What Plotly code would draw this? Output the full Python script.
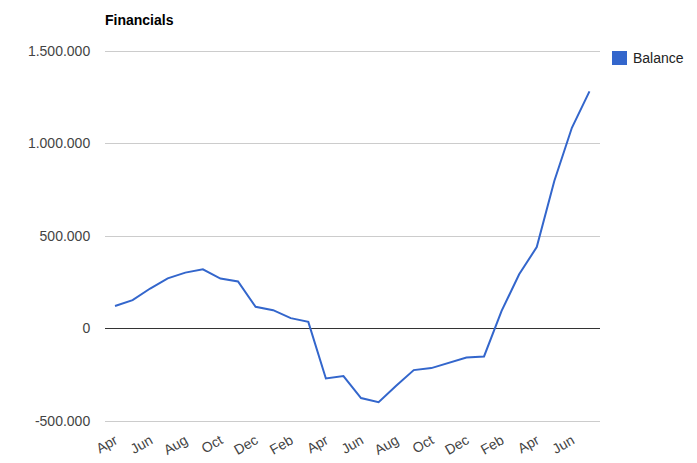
import plotly.graph_objects as go

months = ["Apr", "May", "Jun", "Jul", "Aug", "Sep", "Oct", "Nov", "Dec", "Jan", "Feb", "Mar",
          "Apr", "May", "Jun", "Jul", "Aug", "Sep", "Oct", "Nov", "Dec", "Jan", "Feb", "Mar",
          "Apr", "May", "Jun", "Jul"]
balance = [122000, 153000, 216000, 271000, 302000, 320000, 270000, 254000, 117000, 99000, 56000, 36000,
           -270000, -257000, -376000, -398000, -310000, -225000, -214000, -187000, -157000, -151000, 95000, 293000,
           440000, 797000, 1085000, 1282000]
y_ticks = [-500000, 0, 500000, 1000000, 1500000]
y_tick_labels = ["-500.000", "0", "500.000", "1.000.000", "1.500.000"]
series_name = "Balance"
series_color = "#3366cc"

idx = list(range(len(months)))
tick_idx = idx[::2]
tick_txt = [months[i] for i in tick_idx]

W, H = 697, 463
L, R, T, B = 105, 97, 49, 40
pw, ph = W - L - R, H - T - B
# pad the value range by ~2px on each side so the edge gridlines get drawn
pad_val = 10811

fig = go.Figure()
fig.add_trace(go.Scatter(x=idx, y=balance, mode="lines", name=series_name,
                         line=dict(color=series_color, width=2), showlegend=False,
                         hoverinfo="y"))

def px_x(p):
    return (p - L) / pw

def px_y(p):
    return 1 - (p - T) / ph

# legend: square + label right of the plot
fig.add_shape(type="rect", xref="paper", yref="paper",
              x0=px_x(612), x1=px_x(627), y0=px_y(51), y1=px_y(65),
              fillcolor=series_color, line=dict(width=0))
fig.add_annotation(xref="paper", yref="paper", x=px_x(631), y=px_y(58),
                   xanchor="left", yanchor="middle", text=series_name, showarrow=False,
                   font=dict(size=14, color="#222222"))

fig.update_layout(
    width=W, height=H,
    margin=dict(l=L, r=R, t=T, b=B, pad=0, autoexpand=False),
    paper_bgcolor="white", plot_bgcolor="white",
    font=dict(family="Liberation Sans, Arial, sans-serif", size=14, color="#444444"),
    title=dict(text="<b>Financials</b>", x=L / W, xanchor="left", y=1 - 20 / H, yanchor="middle",
               font=dict(size=14, color="#000000")),
    showlegend=False,
    xaxis=dict(range=[-0.57, 27.6], tickmode="array", tickvals=tick_idx, ticktext=tick_txt,
               tickangle=-30, showgrid=False, zeroline=False, showline=False, automargin=False,
               ticks="outside", ticklen=3, tickcolor="rgba(0,0,0,0)"),
    yaxis=dict(range=[y_ticks[0] - pad_val, y_ticks[-1] + pad_val], tickmode="array",
               tickvals=y_ticks, ticktext=y_tick_labels,
               showgrid=True, gridcolor="#cccccc", gridwidth=1,
               zeroline=True, zerolinecolor="#333333", zerolinewidth=1, automargin=False,
               ticks="outside", ticklen=11, tickcolor="rgba(0,0,0,0)", showline=False),
)

fig.write_html("out.html", config={"displayModeBar": False},
               post_script="document.body.style.margin='0px';document.body.style.padding='0px';")
